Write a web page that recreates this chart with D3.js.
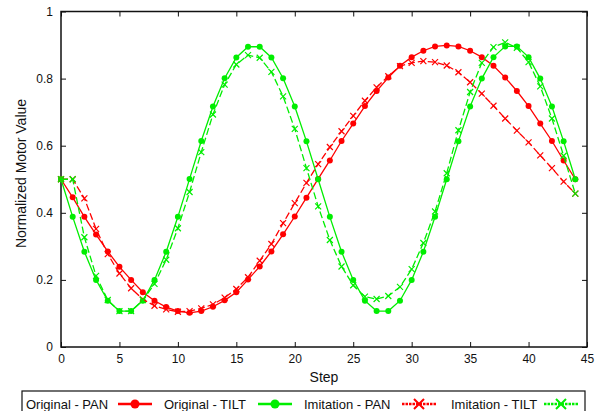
<!DOCTYPE html>
<html>
<head>
<meta charset="utf-8">
<script src="https://cdn.jsdelivr.net/npm/d3@7"></script>
<style>
  body { margin: 0; background: #fff; }
  svg { display: block; font-family: "Liberation Sans", Arial, sans-serif; }
  .tick text { font-size: 12px; fill: #111; }
  .tick line { stroke: #111; }
</style>
</head>
<body>
<svg class="chart" width="603" height="411"></svg>
<script>
const xTicks = [0, 5, 10, 15, 20, 25, 30, 35, 40, 45];
const yTicks = [0, 0.2, 0.4, 0.6, 0.8, 1];

const originalPan = [0.5, 0.446, 0.388, 0.335, 0.285, 0.239, 0.2, 0.163, 0.138, 0.119, 0.107, 0.102, 0.107, 0.12, 0.139, 0.163, 0.201, 0.24, 0.285, 0.336, 0.389, 0.445, 0.501, 0.556, 0.614, 0.666, 0.718, 0.763, 0.803, 0.838, 0.864, 0.883, 0.896, 0.899, 0.896, 0.883, 0.864, 0.838, 0.803, 0.763, 0.718, 0.666, 0.614, 0.556, 0.5];
const originalTilt = [0.5, 0.388, 0.284, 0.2, 0.138, 0.107, 0.107, 0.138, 0.2, 0.284, 0.388, 0.501, 0.614, 0.717, 0.801, 0.863, 0.895, 0.895, 0.863, 0.801, 0.717, 0.613, 0.5, 0.388, 0.284, 0.2, 0.138, 0.107, 0.107, 0.138, 0.2, 0.284, 0.388, 0.5, 0.613, 0.717, 0.8, 0.864, 0.896, 0.896, 0.864, 0.8, 0.717, 0.613, 0.5];
const imitationPan = [0.5, 0.5, 0.443, 0.352, 0.277, 0.219, 0.175, 0.142, 0.123, 0.112, 0.105, 0.107, 0.115, 0.127, 0.147, 0.173, 0.208, 0.257, 0.307, 0.369, 0.429, 0.489, 0.545, 0.596, 0.643, 0.689, 0.734, 0.774, 0.807, 0.837, 0.847, 0.852, 0.849, 0.839, 0.819, 0.789, 0.755, 0.719, 0.681, 0.645, 0.61, 0.571, 0.533, 0.493, 0.457];
const imitationTilt = [0.5, 0.5, 0.327, 0.212, 0.14, 0.107, 0.107, 0.14, 0.188, 0.26, 0.354, 0.462, 0.581, 0.693, 0.782, 0.842, 0.87, 0.862, 0.82, 0.747, 0.65, 0.533, 0.419, 0.319, 0.24, 0.184, 0.15, 0.143, 0.152, 0.179, 0.232, 0.31, 0.404, 0.518, 0.646, 0.76, 0.847, 0.894, 0.908, 0.892, 0.849, 0.777, 0.681, 0.57, 0.457];

const seriesNames = ["Original - PAN", "Original - TILT", "Imitation - PAN", "Imitation - TILT"];

function createChart() {
  const svg = d3.select(".chart");
  const left = 61;
  const right = 587;
  const top = 11.5;
  const bottom = 347;
  const red = "#ff0000";
  const green = "#00ee00";

  const xScale = d3.scaleLinear().domain([0, 45]).range([left, right]);
  const yScale = d3.scaleLinear().domain([0, 1]).range([bottom, top]);

  svg.append("rect").attr("width", 603).attr("height", 411).attr("fill", "#fff");

  // ticks point inward on every side
  svg.append("g")
    .attr("transform", "translate(0," + bottom + ")")
    .call(d3.axisBottom(xScale).tickValues(xTicks).tickSize(-5).tickSizeOuter(0).tickPadding(7))
    .call((g) => g.select(".domain").remove());
  svg.append("g")
    .attr("transform", "translate(0," + top + ")")
    .call(d3.axisTop(xScale).tickValues(xTicks).tickSize(-5).tickSizeOuter(0).tickFormat(""))
    .call((g) => g.select(".domain").remove());
  svg.append("g")
    .attr("transform", "translate(" + left + ",0)")
    .call(d3.axisLeft(yScale).tickValues(yTicks).tickSize(-5).tickSizeOuter(0).tickPadding(8).tickFormat(d3.format("")))
    .call((g) => g.select(".domain").remove());
  svg.append("g")
    .attr("transform", "translate(" + right + ",0)")
    .call(d3.axisRight(yScale).tickValues(yTicks).tickSize(-5).tickSizeOuter(0).tickFormat(""))
    .call((g) => g.select(".domain").remove());

  svg.selectAll(".tick line").attr("stroke-width", 1);

  svg.append("rect")
    .attr("x", left)
    .attr("y", top)
    .attr("width", right - left)
    .attr("height", bottom - top)
    .attr("fill", "none")
    .attr("stroke", "#111")
    .attr("stroke-width", 1.5);

  svg.append("text")
    .text("Step")
    .attr("x", (left + right) / 2)
    .attr("y", 382)
    .attr("text-anchor", "middle")
    .attr("font-size", 14)
    .attr("fill", "#111");

  svg.append("text")
    .text("Normalized Motor Value")
    .attr("transform", "translate(25.5,173.5) rotate(-90)")
    .attr("text-anchor", "middle")
    .attr("font-size", 14)
    .attr("fill", "#111");

  const series = [
    { name: seriesNames[0], values: originalPan, color: red, dash: null, marker: "dot" },
    { name: seriesNames[1], values: originalTilt, color: green, dash: null, marker: "dot" },
    { name: seriesNames[2], values: imitationPan, color: red, dash: "7,3", marker: "cross" },
    { name: seriesNames[3], values: imitationTilt, color: green, dash: "7,3", marker: "cross" },
  ];

  const line = d3.line()
    .x((d, i) => xScale(i))
    .y((d) => yScale(d));

  series.forEach((s) => {
    const g = svg.append("g");
    g.append("path")
      .datum(s.values)
      .attr("d", line)
      .attr("fill", "none")
      .attr("stroke", s.color)
      .attr("stroke-width", 1.3)
      .attr("stroke-dasharray", s.dash);

    if (s.marker === "dot") {
      g.selectAll("circle")
        .data(s.values)
        .enter()
        .append("circle")
        .attr("cx", (d, i) => xScale(i))
        .attr("cy", (d) => yScale(d))
        .attr("r", 3)
        .attr("fill", s.color);
    } else {
      g.selectAll(".cross")
        .data(s.values)
        .enter()
        .append("path")
        .attr("class", "cross")
        .attr("transform", (d, i) => "translate(" + xScale(i) + "," + yScale(d) + ")")
        .attr("d", "M-3,-3L3,3M-3,3L3,-3")
        .attr("stroke", s.color)
        .attr("stroke-width", 1.2);
    }
  });

  // legend box runs off the bottom of the picture
  const legend = svg.append("g").attr("class", "legend");
  legend.append("rect")
    .attr("x", 22)
    .attr("y", 391)
    .attr("width", 563)
    .attr("height", 30)
    .attr("fill", "#fff")
    .attr("stroke", "#111")
    .attr("stroke-width", 1.2);

  const legendTextX = [26, 164, 304, 451];
  const legendSampleX = [118, 258, 402, 544];
  const sampleWidth = 34;
  const legendY = 404;

  series.forEach((s, i) => {
    legend.append("text")
      .text(s.name)
      .attr("x", legendTextX[i])
      .attr("y", legendY + 4.5)
      .attr("font-size", 13)
      .attr("fill", "#111");

    const x0 = legendSampleX[i];
    legend.append("line")
      .attr("x1", x0)
      .attr("x2", x0 + sampleWidth)
      .attr("y1", legendY)
      .attr("y2", legendY)
      .attr("stroke", s.color)
      .attr("stroke-width", s.dash ? 2.5 : 2.5)
      .attr("stroke-dasharray", s.dash ? "2.5,1" : null);

    const mx = x0 + sampleWidth / 2;
    if (s.marker === "dot") {
      legend.append("circle")
        .attr("cx", mx)
        .attr("cy", legendY)
        .attr("r", 4.5)
        .attr("fill", s.color);
    } else {
      legend.append("path")
        .attr("transform", "translate(" + mx + "," + legendY + ")")
        .attr("d", "M-5,-5L5,5M-5,5L5,-5")
        .attr("stroke", s.color)
        .attr("stroke-width", 2);
    }
  });
}

createChart();
</script>
</body>
</html>
